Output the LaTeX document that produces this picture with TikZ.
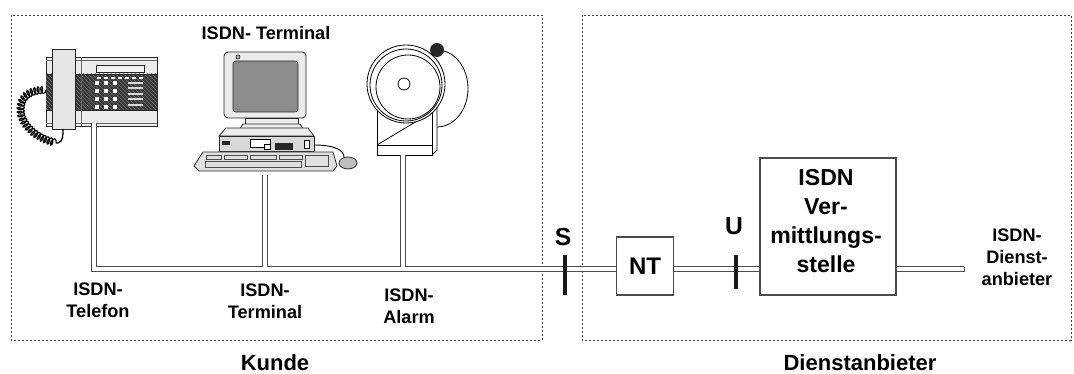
\documentclass[tikz,border=0pt]{standalone}
\usepackage{fontspec}
\setmainfont{Liberation Sans}
\usetikzlibrary{decorations.pathmorphing,patterns,positioning}
\tikzset{
	zone/.style={draw=black!75, line width=0.6pt, dash pattern=on 1.5pt off 1.5pt},
	devlabel/.style={font=\bfseries\fontsize{13.6}{16.5}\selectfont, align=center, inner sep=0},
	zonelabel/.style={font=\bfseries\fontsize{16.5}{20}\selectfont, inner sep=0},
	refpoint/.style={font=\bfseries\fontsize{18.5}{20}\selectfont, inner sep=0},
	unitbox/.style={draw=black!70, fill=white, line width=0.9pt, font=\bfseries\fontsize{18}{20}\selectfont},
	vsttext/.style={font=\bfseries\fontsize{17.3}{21.75}\selectfont, align=center, inner sep=0},
	cable/.style={draw=black!70, line width=0.75pt, double=white, double distance=3pt},
	refbar/.style={line width=3pt, draw=black!90},
	housing/.style={draw=black!85, fill=black!8, line width=0.6pt},
	coilcord/.style={line width=0.9pt, decorate, decoration={coil, aspect=0.5, segment length=2.6pt, amplitude=2.6pt}}
}
\begin{document}
\begin{tikzpicture}[x=0.75pt, y=-0.75pt]
		\useasboundingbox (0,0) rectangle (1074,374);

		% zones
		\draw [zone] (11,15) rectangle (542,340);
		\draw [zone] (582,15) rectangle (1071,340);

		% ISDN-Telefon
		\draw [housing] (46,57) rectangle (157,126);
		\fill [black!78] (46,74) rectangle (157,110);
		\fill [pattern=north west lines, pattern color=black!55] (46,74) rectangle (157,110);
		\draw [black!85, line width=0.6pt] (46,74) -- (157,74) (46,110) -- (157,110);
		\draw [black!60] (46,60) -- (157,60) (46,123) -- (157,123) (81,57) -- (81,126);
		\draw [black!85, fill=black!5] (96,65) rectangle (144,72);
		\foreach \x in {97,104,...,141}
			\draw [white, line width=0.8pt] (\x,78) -- ++(4,0);
		\foreach \x in {97,106,115}
			\foreach \y in {83,91,99,107}
				\fill [white] (\x-2,\y-2) rectangle ++(4,4);
		\foreach \y in {83,88,94,99,105}
			\draw [black!15, line width=1.2pt] (128,\y) -- (143,\y);
		\draw [housing, fill=black!10] (52,49) rectangle (75,129);
		\draw [coilcord] (46,90) .. controls (28,90) and (20,98) .. (21,112)
			.. controls (23,128) and (40,140) .. (58,143);
		\draw [line width=1pt] (58,143) .. controls (63,142) and (63,135) .. (63,129);

		% ISDN-Terminal
		\draw [housing, rounded corners=3pt] (224,52) rectangle (306,118);
		\draw [black!85, fill=black!45, rounded corners=2pt] (233,61) rectangle (298,112);
		\draw [fill=black!30] (238,57) circle (2);
		\draw [housing] (245,118) rectangle (298,124);
		\draw [housing] (243,124) -- (300,124) -- (304,130) -- (239,130) -- cycle;
		\draw [housing] (226,128) -- (308,128) -- (314,136) -- (219,136) -- cycle;
		\draw [housing, fill=black!15] (219,136) rectangle (314,151);
		\draw [fill=white] (250,139) rectangle (270,147);
		\fill [black!85] (275,143) rectangle (293,150);
		\draw [fill=white] (264,144) rectangle (270,149);
		\fill [black!85] (222,141) rectangle (230,145);
		\draw [fill=white] (304,140) rectangle (309,148);
		\draw [housing, fill=black!12] (203,152) -- (333,152) -- (337,166) -- (333,171) -- (199,171) -- (194,166) -- cycle;
		\draw [black!70] (206,155) rectangle (221,159) (224,155) rectangle (247,159)
			(250,155) rectangle (276,159) (279,155) rectangle (302,159)
			(305,155) rectangle (328,166) (205,161) rectangle (301,167);
		\draw [line width=0.7pt] (314,145) .. controls (334,145) and (344,150) .. (344,157);
		\draw [housing, fill=black!25] (348,163) ellipse [x radius=9, y radius=6];

		% ISDN-Alarm
		\draw [line width=0.6pt] (437,50) arc [start angle=-90, end angle=90, x radius=31, y radius=38.5];
		\draw [line width=0.6pt, fill=white] (432,106) -- (437,102) -- (437,150) -- (432,155) -- cycle;
		\draw [line width=0.6pt, fill=white] (377,100) rectangle (432,145);
		\draw [line width=0.6pt] (377,145) -- (432,112);
		\draw [line width=0.6pt, fill=white] (377,145) rectangle (432,155);
		\draw [line width=0.6pt, fill=white] (406,84) circle (39);
		\draw [line width=0.6pt] (406,85) circle (36);
		\draw [line width=0.6pt] (408,87) circle (32);
		\draw [line width=0.6pt] (404,84) circle (6);
		\fill [black!85] (437,50) circle (7);

		% cable
		\coordinate (telport) at (94,123);
		\coordinate (termport) at (265,175);
		\coordinate (alarmport) at (403,155);
		\coordinate (netend) at (964,269);
		\draw [cable] (telport) |- (netend) (termport) -- (termport |- netend) (alarmport) -- (alarmport |- netend);
		\draw [black!70, line width=0.75pt] (netend) ++(0,-2.5) -- ++(0,5);

		% network side
		\node [unitbox, minimum width=42.4pt, minimum height=43.5pt] (nt) at (645,266) {NT};
		\node [unitbox, minimum width=102pt, minimum height=102.75pt] (vst) at (828,226.5) {};
		\node [vsttext] (vstlbl) at (826,221.5) {ISDN\\Ver-\\mittlungs-\\stelle};
		\node [refpoint] (slbl) at (563,237) {S};
		\node [refpoint] (ulbl) at (734,226) {U};
		\draw [refbar] (565,255) -- (565,295);
		\draw [refbar] (736,255) -- (736,289);

		% labels
		\node [devlabel] (toplbl) at (266,33) {ISDN- Terminal};
		\node [devlabel] (tellbl) at (98,300.5) {ISDN-\\Telefon};
		\node [devlabel] (termlbl) at (265,301) {ISDN-\\Terminal};
		\node [devlabel] (alarmlbl) at (409,306.5) {ISDN-\\Alarm};
		\node [devlabel] (provlbl) at (1017,257) {ISDN-\\Dienst-\\anbieter};
		\node [zonelabel] (kunde) at (275,363) {Kunde};
		\node [zonelabel] (anbieter) at (860,363) {Dienstanbieter};
\end{tikzpicture}
\end{document}
